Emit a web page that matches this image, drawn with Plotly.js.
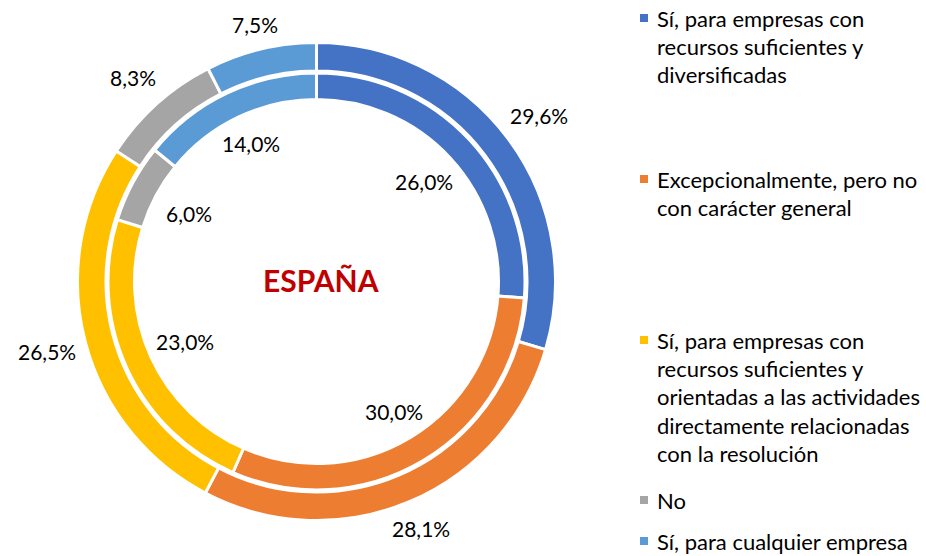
<!DOCTYPE html>
<html>
<head>
<meta charset="utf-8">
<script src="https://cdn.plot.ly/plotly-3.0.1.min.js"></script>
<style>html,body{margin:0;padding:0;background:#fff;}#chart{width:926px;height:556px;}</style>
</head>
<body>
<div id="chart"></div>
<script>
// ---- data ----
const categories = [
  "Sí, para empresas con<br>recursos suficientes y<br>diversificadas",
  "Excepcionalmente, pero no<br>con carácter general",
  "Sí, para empresas con<br>recursos suficientes y<br>orientadas a las actividades<br>directamente relacionadas<br>con la resolución",
  "No",
  "Sí, para cualquier empresa"
];
const outerValues = [29.6, 28.1, 26.5, 8.3, 7.5];
const innerValues = [26.0, 30.0, 23.0, 6.0, 14.0];
const colors = ["#4472C4", "#ED7D31", "#FFC000", "#A5A5A5", "#5B9BD5"];
const centerLabel = "ESPAÑA";

// ---- layout geometry ----
const W = 926, H = 556;
const CX = 316.5, CY = 281.5;
const R_OUT = 239, HOLE_OUT = 210.5;
const R_IN = 208.5, HOLE_IN = 182;
const FONT = "Lato, 'Open Sans', sans-serif";
const px = x => x / W;
const py = y => 1 - y / H;

function domainFor(r) {
  return { x: [px(CX - r), px(CX + r)], y: [py(CY + r), py(CY - r)] };
}
function fmt(v) { return v.toFixed(1).replace('.', ',') + '%'; }

function pieTrace(values, r, holeR) {
  return {
    type: 'pie',
    values: values,
    labels: categories,
    marker: { colors: colors, line: { color: '#ffffff', width: 3 } },
    sort: false,
    direction: 'clockwise',
    rotation: 0,
    hole: holeR / r,
    domain: domainFor(r),
    textinfo: 'none',
    hoverinfo: 'none',
    showlegend: false
  };
}

function ringLabels(values, outside) {
  const total = values.reduce((a, b) => a + b, 0);
  let cum = 0;
  const anns = [];
  values.forEach(v => {
    const mid = (cum + v / 2) / total * 2 * Math.PI;
    cum += v;
    const s = Math.sin(mid), c = Math.cos(mid);
    const r = outside ? 248 + 29 * Math.abs(s) + 10 * Math.abs(c)
                      : 174 - 28 * Math.abs(s) - 10 * Math.abs(c);
    anns.push({
      x: px(CX + r * s), y: py(CY - r * c), xref: 'paper', yref: 'paper',
      text: fmt(v), showarrow: false, xanchor: 'center', yanchor: 'middle',
      font: { family: FONT, size: 21, color: '#000000' }
    });
  });
  return anns;
}

// legend (custom, to match spacing)
const legendTop = [18, 179, 340, 500, 541];
const LINE_H = 28.4, MARK_X = 644, TEXT_X = 655, MARK = 8;
const legendAnns = [], legendShapes = [];
categories.forEach((cat, i) => {
  cat.split('<br>').forEach((line, j) => {
    legendAnns.push({
      x: px(TEXT_X), y: py(legendTop[i] + j * LINE_H), xref: 'paper', yref: 'paper',
      text: line, showarrow: false, xanchor: 'left', yanchor: 'middle',
      font: { family: FONT, size: 22, color: '#000000' }
    });
  });
  legendShapes.push({
    type: 'rect', xref: 'paper', yref: 'paper',
    x0: px(MARK_X - MARK / 2), x1: px(MARK_X + MARK / 2),
    y0: py(legendTop[i] + MARK / 2), y1: py(legendTop[i] - MARK / 2),
    fillcolor: colors[i], line: { width: 0 }
  });
});

const annotations = [
  ...ringLabels(outerValues, true),
  ...ringLabels(innerValues, false),
  ...legendAnns,
  {
    x: px(320.5), y: py(280), xref: 'paper', yref: 'paper',
    text: '<b>' + centerLabel + '</b>', showarrow: false,
    xanchor: 'center', yanchor: 'middle',
    font: { family: FONT, size: 30, color: '#C00000' }
  }
];

Plotly.newPlot('chart', [
  pieTrace(outerValues, R_OUT, HOLE_OUT),
  pieTrace(innerValues, R_IN, HOLE_IN)
], {
  width: W, height: H,
  margin: { l: 0, r: 0, t: 0, b: 0 },
  paper_bgcolor: '#ffffff',
  showlegend: false,
  annotations: annotations,
  shapes: legendShapes
}, { displayModeBar: false, staticPlot: true });
</script>
</body>
</html>
